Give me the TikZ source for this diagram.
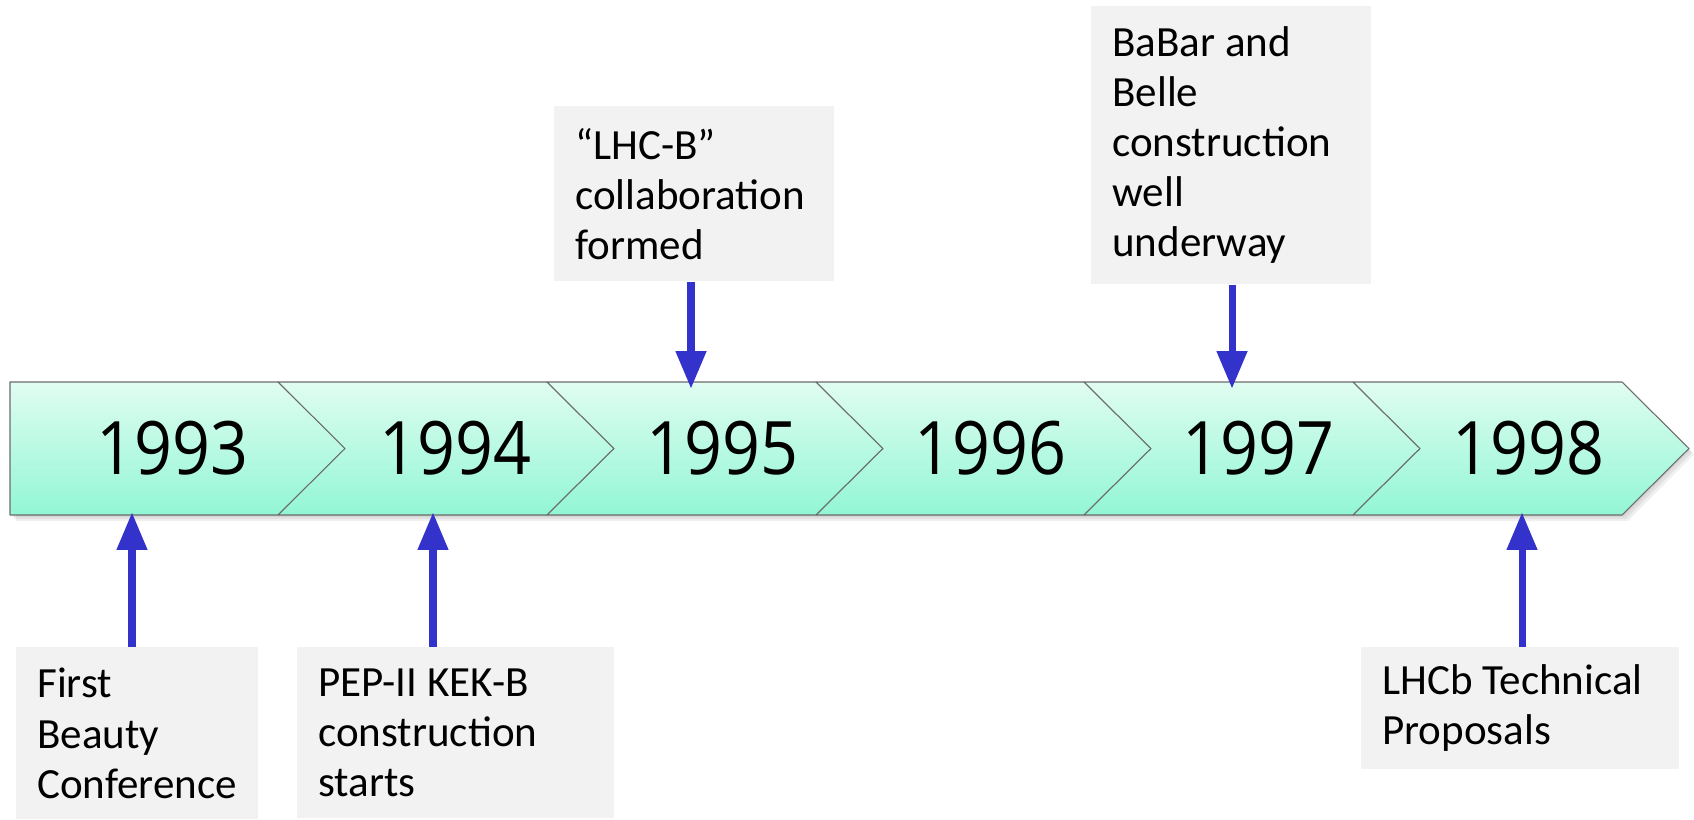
\documentclass[tikz,border=0pt]{standalone}
\usepackage{fontspec}
\usepackage{graphicx}
\setmainfont{Carlito}
\newfontfamily\yearfont{Open Sans}
\usetikzlibrary{arrows}
\definecolor{ttttcc}{rgb}{0.2,0.2,0.8}
\definecolor{boxgray}{rgb}{0.949,0.949,0.949}
\definecolor{mintlight}{rgb}{0.878,0.992,0.945}
\definecolor{mintdark}{rgb}{0.573,0.965,0.835}
\definecolor{edgegray}{rgb}{0.42,0.42,0.42}
\tikzset{
  chev/.style={draw=edgegray,line width=0.6pt,top color=mintlight,bottom color=mintdark},
  year/.style={font=\yearfont\fontsize{42}{42}\selectfont,inner sep=0pt},
  note/.style={fill=boxgray,anchor=north west,align=flush left,inner xsep=0.42cm,inner ysep=0pt,
    font=\fontsize{24.5}{28.5}\selectfont},
  arr/.style={->,color=ttttcc,line width=4pt,line cap=butt}
}
\begin{document}
\begin{tikzpicture}[line cap=round,line join=round,>=triangle 45,x=0.02cm,y=-0.02cm]
\useasboundingbox (0,0) rectangle (1694,819);
% shadow under the band
\foreach \s in {2,4,6}
  \fill[black,opacity=0.06] (10+\s,382+\s) -- (1622+\s,382+\s) -- (1688+\s,448.5+\s) -- (1622+\s,515+\s) -- (10+\s,515+\s) -- cycle;
% the band
\draw[chev] (10,382) -- (278,382) -- (346,448.5) -- (278,515) -- (10,515) -- cycle;
\foreach \x/\nx in {278/547,547/816,816/1084,1084/1353,1353/1622}
  \draw[chev] (\x,382) -- (\nx,382) -- (\nx+67,448.5) -- (\nx,515) -- (\x,515) -- (\x+67,448.5) -- cycle;
\node[year] (y93) at (172,448.5) {\scalebox{0.9}[1]{1993}};
\node[year] (y94) at (455,448.5) {\scalebox{0.9}[1]{1994}};
\node[year] (y95) at (722,448.5) {\scalebox{0.9}[1]{1995}};
\node[year] (y96) at (990,448.5) {\scalebox{0.9}[1]{1996}};
\node[year] (y97) at (1258,448.5) {\scalebox{0.9}[1]{1997}};
\node[year] (y98) at (1528,448.5) {\scalebox{0.9}[1]{1998}};
% notes
\node[note,text width=4.0cm,minimum height=3.44cm] (b93) at (16,647) {First\\Beauty\\Conference};
\node[note,text width=5.5cm,minimum height=3.42cm] (b94) at (297,647) {PEP-II KEK-B\\construction\\starts};
\node[note,text width=4.76cm,minimum height=3.5cm] (b95) at (554,106) {``LHC-B''\\collaboration\\formed};
\node[note,text width=4.76cm,minimum height=5.56cm] (b97) at (1091,6) {BaBar and\\Belle\\construction\\well\\underway};
\node[note,text width=5.52cm,minimum height=2.44cm] (b98) at (1361,647) {LHCb Technical\\Proposals};
% arrows
\coordinate (a93) at (132,513);
\coordinate (a94) at (433,513);
\coordinate (a95) at (691,388);
\coordinate (a97) at (1232,388);
\coordinate (a98) at (1522,513);
\draw[arr] (a93 |- b93.north) -- (a93);
\draw[arr] (a94 |- b94.north) -- (a94);
\draw[arr] (a95 |- b95.south) -- (a95);
\draw[arr] (a97 |- b97.south) -- (a97);
\draw[arr] (a98 |- b98.north) -- (a98);
\end{tikzpicture}
\end{document}
